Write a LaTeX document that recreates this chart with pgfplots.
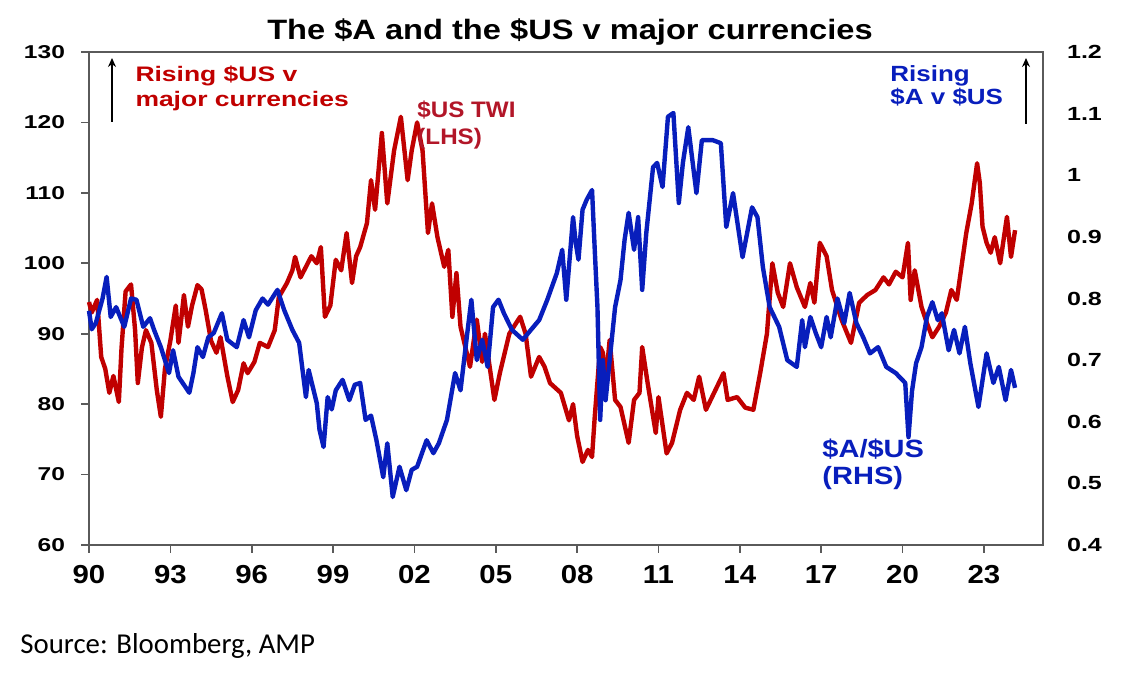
\documentclass[border=0pt]{standalone}
\usepackage{fontspec}
\setmainfont{Liberation Sans}
\newfontfamily\carlito{Carlito}
\usepackage{graphicx}
\usepackage{pgfplots}
\pgfplotsset{compat=1.18}
\usetikzlibrary{arrows.meta}
\definecolor{twired}{RGB}{192,0,0}
\definecolor{audblue}{RGB}{8,30,188}
\definecolor{lblred}{RGB}{178,22,40}
\definecolor{axgray}{RGB}{90,90,90}
\newcommand{\yl}[1]{\scalebox{1.32}[1]{#1}}
\newcommand{\xl}[1]{\scalebox{1.13}[1]{#1}}
\begin{document}
\begin{tikzpicture}[x=1pt,y=1pt]
\path[use as bounding box] (-44.5,-64.5) rectangle (525.5,272.5);
\begin{axis}[at={(0,0)}, anchor=south west, scale only axis,
  width=477pt, height=246.5pt,
  xmin=1990, xmax=2025.18, ymin=60, ymax=130,
  xtick={1990,1993,1996,1999,2002,2005,2008,2011,2014,2017,2020,2023},
  xticklabels={\xl{90},\xl{93},\xl{96},\xl{99},\xl{02},\xl{05},\xl{08},\xl{11},\xl{14},\xl{17},\xl{20},\xl{23}},
  ytick={60,70,80,90,100,110,120,130},
  yticklabels={\yl{60},\yl{70},\yl{80},\yl{90},\yl{100},\yl{110},\yl{120},\yl{130}},
  tick align=outside, xtick pos=bottom, ytick pos=left,
  major tick length=4pt,
  axis line style={axgray, line width=1pt},
  tick style={axgray, line width=0.8pt},
  yticklabel style={font=\fontsize{9.3}{10}\selectfont\bfseries, xshift=-4.5pt},
  xticklabel style={font=\fontsize{13}{14}\selectfont\bfseries, yshift=-2.7pt},
  clip=false]
\addplot[twired, line width=2.2pt, line join=round] coordinates {
(1990.0,94.5) (1990.1,93.0) (1990.3,94.8) (1990.45,86.7) (1990.6,85) (1990.75,81.6) (1990.9,84)
(1991.1,80.3) (1991.2,88) (1991.35,96) (1991.55,97) (1991.7,90.5) (1991.8,83) (1991.95,88)
(1992.1,90.5) (1992.3,88.7) (1992.5,82) (1992.65,78.2) (1992.8,85) (1993.0,89) (1993.2,94)
(1993.3,88.7) (1993.4,92) (1993.5,95.5) (1993.65,91) (1993.8,94) (1994.0,96.9) (1994.15,96.3)
(1994.3,93.4) (1994.5,89) (1994.7,87.3) (1994.85,89.5) (1995.1,84) (1995.3,80.3) (1995.5,82)
(1995.7,85.8) (1995.85,84.4) (1996.1,86) (1996.3,88.7) (1996.6,88.1) (1996.85,90.5) (1997.0,95.2)
(1997.3,97.2) (1997.5,99) (1997.6,100.9) (1997.8,98) (1998.0,99.5) (1998.2,101) (1998.4,100)
(1998.55,102.3) (1998.7,92.4) (1998.9,94) (1999.1,100.5) (1999.3,99) (1999.5,104.3) (1999.7,97.2)
(1999.85,101) (2000.0,102.3) (2000.25,105.7) (2000.4,111.8) (2000.55,107.6) (2000.8,118.5)
(2001.0,108.5) (2001.25,116) (2001.5,120.8) (2001.75,111.8) (2001.9,116) (2002.1,120) (2002.3,116)
(2002.5,104.3) (2002.65,108.5) (2002.85,103.7) (2003.1,99.5) (2003.25,101.9) (2003.4,92.4)
(2003.55,98.6) (2003.7,91) (2004.05,85.3) (2004.3,92) (2004.5,86) (2004.6,90) (2004.95,80.6)
(2005.15,84.4) (2005.5,90) (2005.9,92.4) (2006.1,90) (2006.3,83.9) (2006.6,86.7) (2006.8,85.3)
(2007.0,83) (2007.4,81.6) (2007.7,77.7) (2007.85,80) (2008.0,75.5) (2008.2,71.8) (2008.4,73.5)
(2008.55,72.5) (2008.65,78.2) (2008.85,88.1) (2008.95,87.3) (2009.05,83) (2009.2,89.1)
(2009.4,80.6) (2009.6,79.6) (2009.9,74.5) (2010.1,80.6) (2010.3,81.6) (2010.4,88.1) (2010.6,83)
(2010.9,75.9) (2011.0,81) (2011.3,73) (2011.5,74.5) (2011.8,79.2) (2012.05,81.6) (2012.3,80.6)
(2012.5,83.9) (2012.75,79.2) (2013.1,82) (2013.4,84.4) (2013.55,80.6) (2013.9,81) (2014.2,79.5)
(2014.5,79.2) (2014.75,84.4) (2015.0,90) (2015.2,100) (2015.4,95.8) (2015.6,93.8) (2015.85,100)
(2016.1,96.6) (2016.4,93.8) (2016.6,97.2) (2016.75,94.4) (2016.95,102.9) (2017.2,101) (2017.4,96.2)
(2017.75,92) (2018.1,88.7) (2018.4,94.4) (2018.7,95.5) (2019.0,96.2) (2019.3,98) (2019.5,97)
(2019.75,98.8) (2020.0,98) (2020.2,102.9) (2020.3,94.8) (2020.45,99) (2020.7,93.8) (2020.9,91.5)
(2021.1,89.5) (2021.35,91) (2021.6,93) (2021.8,96.2) (2022.0,94.8) (2022.35,104.3) (2022.55,108.5)
(2022.75,114.2) (2022.85,111.4) (2022.95,105.2) (2023.1,102.9) (2023.25,101.5) (2023.4,103.7)
(2023.6,100) (2023.85,106.6) (2024.0,100.9) (2024.15,104.7)
};
\end{axis}
\begin{axis}[at={(0,0)}, anchor=south west, scale only axis,
  width=477pt, height=246.5pt,
  xmin=1990, xmax=2025.18, ymin=0.4, ymax=1.2,
  axis x line=none, axis y line*=right,
  ytick={0.4,0.5,0.6,0.7,0.8,0.9,1,1.1,1.2},
  yticklabels={\yl{0.4},\yl{0.5},\yl{0.6},\yl{0.7},\yl{0.8},\yl{0.9},\yl{1},\yl{1.1},\yl{1.2}},
  major tick length=0pt,
  axis line style={axgray, line width=1pt},
  yticklabel style={font=\fontsize{9.5}{10}\selectfont\bfseries, xshift=8.5pt},
  clip=false]
\addplot[audblue, line width=2.2pt, line join=round] coordinates {
(1990.0,0.78) (1990.1,0.75) (1990.25,0.76) (1990.5,0.80) (1990.65,0.835) (1990.8,0.77) (1991.0,0.786)
(1991.3,0.754) (1991.55,0.80) (1991.75,0.798) (1992.0,0.754) (1992.25,0.768) (1992.4,0.749)
(1992.65,0.721) (1992.95,0.679) (1993.1,0.716) (1993.3,0.673) (1993.7,0.647) (1993.85,0.679)
(1994.0,0.721) (1994.2,0.705) (1994.4,0.737) (1994.6,0.744) (1994.9,0.776) (1995.1,0.733)
(1995.45,0.721) (1995.7,0.765) (1995.9,0.737) (1996.15,0.781) (1996.4,0.80) (1996.6,0.79)
(1996.95,0.814) (1997.2,0.781) (1997.5,0.749) (1997.75,0.728) (1998.0,0.64) (1998.1,0.684)
(1998.4,0.63) (1998.5,0.587) (1998.65,0.559) (1998.8,0.64) (1998.95,0.62) (1999.1,0.651)
(1999.35,0.668) (1999.6,0.635) (1999.8,0.66) (2000.0,0.663) (2000.2,0.603) (2000.4,0.61)
(2000.6,0.57) (2000.85,0.51) (2001.0,0.565) (2001.2,0.478) (2001.45,0.527) (2001.7,0.489)
(2001.9,0.522) (2002.1,0.527) (2002.45,0.57) (2002.7,0.549) (2002.9,0.565) (2003.2,0.603)
(2003.5,0.679) (2003.7,0.651) (2003.95,0.744) (2004.1,0.798) (2004.3,0.70) (2004.5,0.733)
(2004.7,0.689) (2004.9,0.786) (2005.1,0.798) (2005.3,0.776) (2005.6,0.749) (2006.0,0.733)
(2006.2,0.744) (2006.6,0.765) (2006.9,0.798) (2007.25,0.841) (2007.45,0.879) (2007.6,0.798)
(2007.85,0.932) (2007.95,0.89) (2008.05,0.863) (2008.2,0.944) (2008.35,0.96) (2008.55,0.976)
(2008.65,0.879) (2008.75,0.786) (2008.85,0.603) (2008.95,0.70) (2009.05,0.635) (2009.2,0.70)
(2009.4,0.786) (2009.6,0.83) (2009.75,0.895) (2009.9,0.939) (2010.1,0.879) (2010.25,0.932)
(2010.4,0.814) (2010.55,0.906) (2010.8,1.013) (2010.95,1.02) (2011.15,0.981) (2011.35,1.095)
(2011.55,1.101) (2011.75,0.955) (2011.9,1.02) (2012.1,1.078) (2012.4,0.971) (2012.6,1.057)
(2013.0,1.057) (2013.3,1.052) (2013.5,0.916) (2013.75,0.971) (2014.1,0.867) (2014.45,0.948)
(2014.65,0.932) (2014.85,0.851) (2015.1,0.786) (2015.45,0.754) (2015.75,0.70) (2016.1,0.689)
(2016.3,0.765) (2016.4,0.721) (2016.6,0.77) (2016.8,0.744) (2017.0,0.721) (2017.2,0.77)
(2017.35,0.737) (2017.6,0.80) (2017.85,0.76) (2018.05,0.809) (2018.3,0.76) (2018.55,0.737)
(2018.8,0.711) (2019.1,0.721) (2019.4,0.689) (2019.75,0.679) (2020.1,0.663) (2020.22,0.575)
(2020.35,0.65) (2020.5,0.695) (2020.7,0.721) (2020.9,0.77) (2021.1,0.794) (2021.3,0.765)
(2021.45,0.776) (2021.7,0.716) (2021.9,0.749) (2022.1,0.711) (2022.3,0.754) (2022.5,0.695)
(2022.8,0.624) (2023.1,0.711) (2023.35,0.663) (2023.55,0.689) (2023.8,0.635) (2024.0,0.684)
(2024.15,0.655)
};
\end{axis}
% title
\node[anchor=base, inner sep=0pt, font=\fontsize{14}{16}\selectfont\bfseries, xscale=1.165] at (240.5,252.5) {The \$A and the \$US v major currencies};
% annotations
\begin{scope}[every node/.style={anchor=base west, inner sep=0pt}]
\node[font=\fontsize{10.5}{12}\selectfont\bfseries, text=twired, xscale=1.26] at (23,231.5) {Rising \$US v};
\node[font=\fontsize{10.5}{12}\selectfont\bfseries, text=twired, xscale=1.26] at (23,219) {major currencies};
\node[font=\fontsize{11.2}{12}\selectfont\bfseries, text=lblred, xscale=1.08] at (164,213.5) {\$US TWI};
\node[font=\fontsize{11.2}{12}\selectfont\bfseries, text=lblred, xscale=1.08] at (164,200) {(LHS)};
\node[font=\fontsize{11}{12}\selectfont\bfseries, text=audblue, xscale=1.18] at (400.5,231.5) {Rising};
\node[font=\fontsize{11}{12}\selectfont\bfseries, text=audblue, xscale=1.18] at (400.5,220) {\$A v \$US};
\node[font=\fontsize{12.5}{13}\selectfont\bfseries, text=audblue, xscale=1.16] at (366.5,43.5) {\$A/\$US};
\node[font=\fontsize{12.5}{13}\selectfont\bfseries, text=audblue, xscale=1.16] at (366.5,30) {(RHS)};
\node[font=\carlito\fontsize{14.4}{16}\selectfont] at (-34.5,-54) {Source: Bloomberg, AMP};
\end{scope}
\draw[line width=0.9pt, -{Stealth[length=4.5pt,width=4pt]}] (11.5,211.5) -- (11.5,243.5);
\draw[line width=0.9pt, -{Stealth[length=4.5pt,width=4pt]}] (468.5,210.5) -- (468.5,243.5);
\end{tikzpicture}
\end{document}
